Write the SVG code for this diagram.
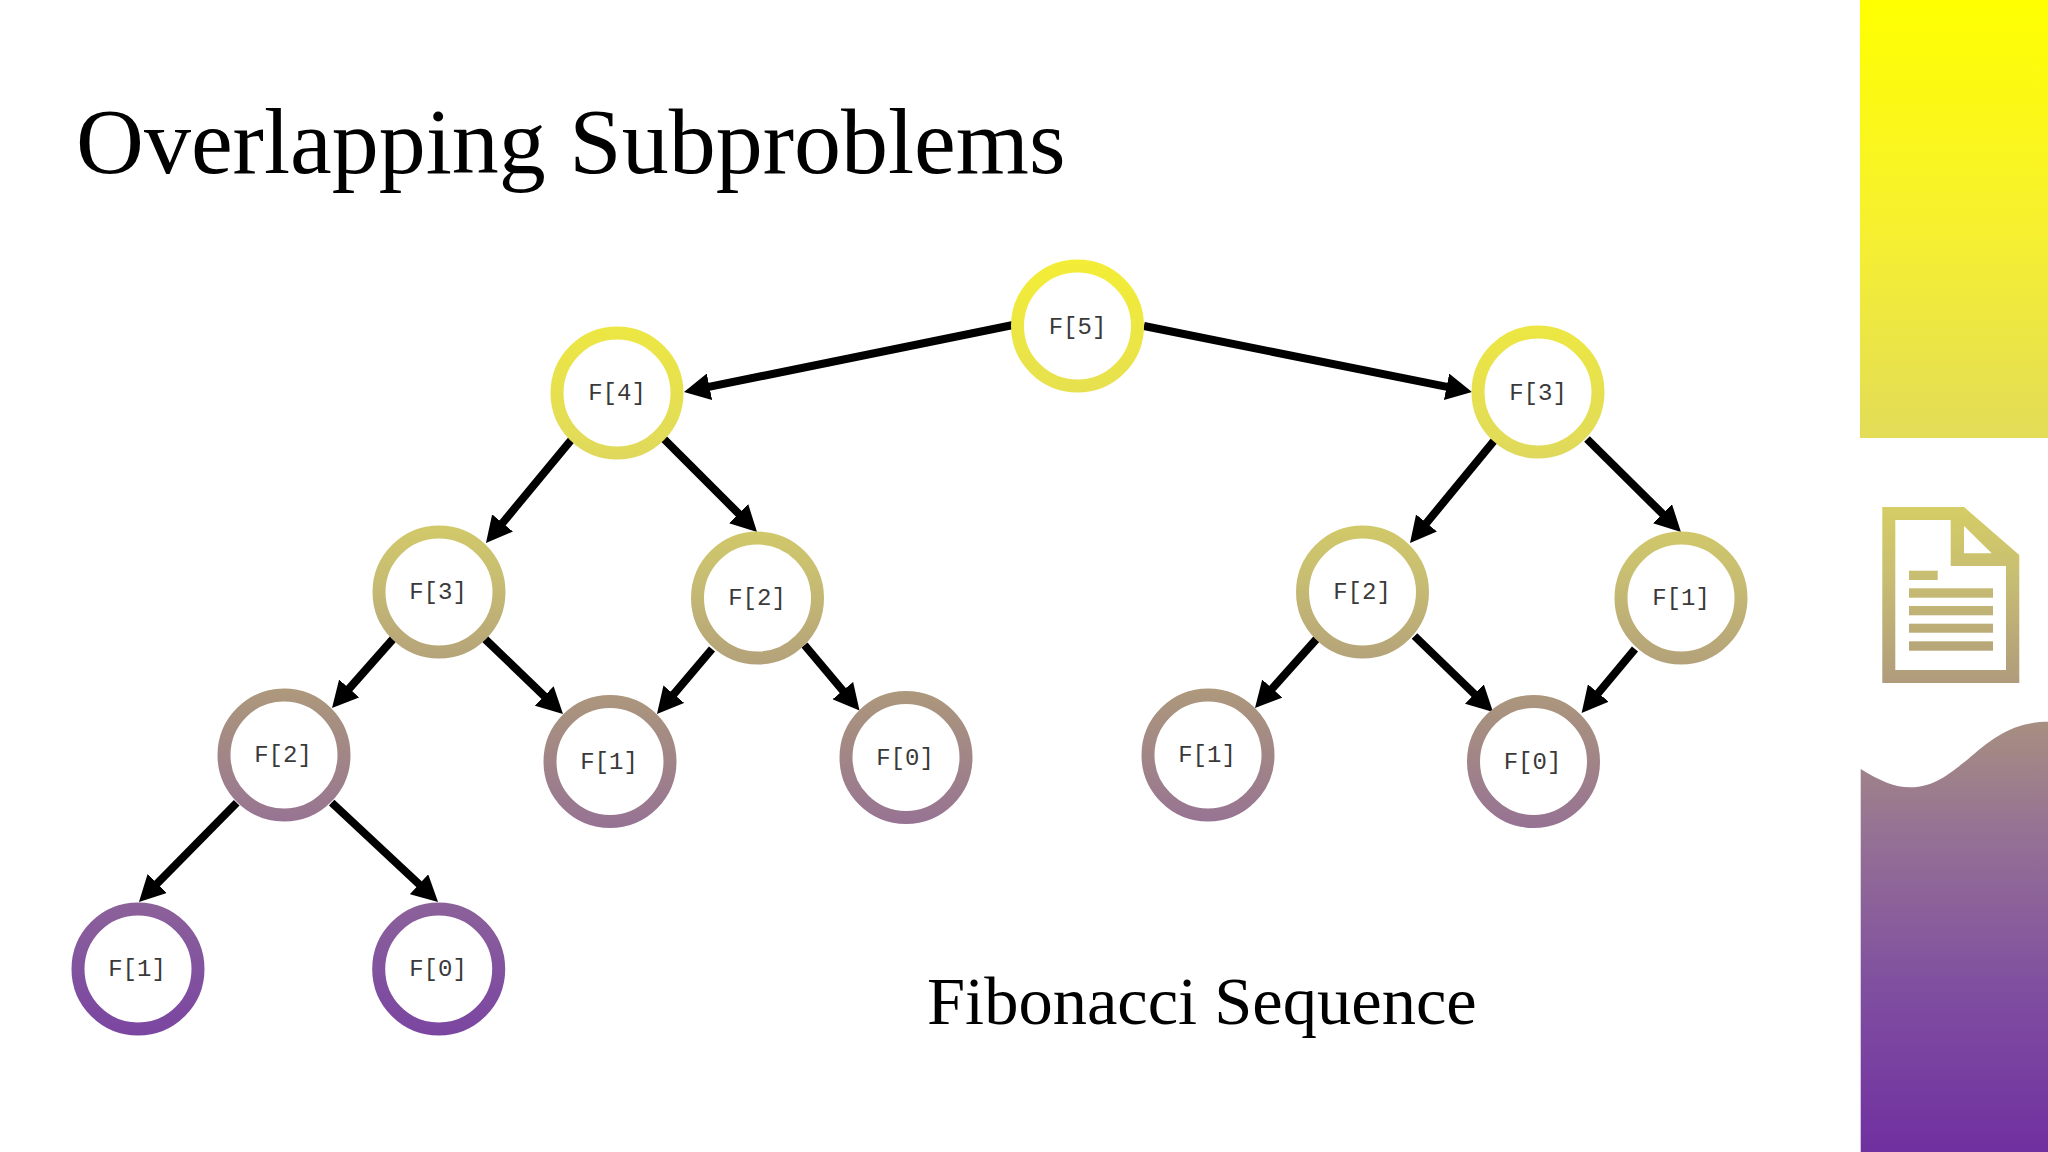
<svg xmlns="http://www.w3.org/2000/svg" width="2048" height="1152" viewBox="0 0 2048 1152">
<defs>
<linearGradient id="g" gradientUnits="userSpaceOnUse" x1="0" y1="0" x2="0" y2="1152">
<stop offset="0" stop-color="#ffff00"/><stop offset="0.2" stop-color="#f6f030"/><stop offset="0.38" stop-color="#e2dc58"/><stop offset="0.5" stop-color="#c8be72"/><stop offset="0.62" stop-color="#a8917f"/><stop offset="0.72" stop-color="#967294"/><stop offset="0.86" stop-color="#7f4ea0"/><stop offset="1" stop-color="#7030a0"/>
</linearGradient>
<marker id="arrow" markerUnits="userSpaceOnUse" markerWidth="26" markerHeight="27" refX="12" refY="13.5" orient="auto"><path d="M0 0L26 13.5L0 27z" fill="#000"/></marker>
</defs>
<style>
.n{fill:#fff;stroke:url(#g);stroke-width:13}
.l{font-family:"Liberation Mono",monospace;font-size:24px;fill:#3a3a3a;text-anchor:middle}
.t{font-family:"Liberation Serif",serif;fill:#000}
#connectors line{stroke:#000;stroke-width:8;marker-end:url(#arrow)}
.p{fill:url(#g)}
</style>
<rect width="2048" height="1152" fill="#fff"/>
<g id="panel">
<rect class="p" x="1860" y="0" width="188" height="438"/>
<path class="p" d="M1860.7 769C1880 781 1895 787.3 1910 787.3C1935 787.3 1950 773 1967 760C1990 740 2012 721.7 2048 721.7V1152H1860.7z"/>
<path class="p" fill-rule="evenodd" d="M1882.3 507H1964L2019.3 555V683H1882.3zM1895.3 520V670H2006V566H1950.7V520zM1964 526V553.3H1991.7z"/>
<rect class="p" x="1909" y="570.7" width="28.7" height="9.3"/>
<rect class="p" x="1909" y="588.3" width="84" height="9.4"/>
<rect class="p" x="1909" y="606" width="84" height="9.3"/>
<rect class="p" x="1909" y="623.7" width="84" height="9"/>
<rect class="p" x="1909" y="641.3" width="84" height="9.4"/>
</g>
<text class="t" x="76" y="173" font-size="94">Overlapping Subproblems</text>
<text class="t" x="927" y="1024" font-size="68.5">Fibonacci Sequence</text>
<g id="connectors">
<line x1="1013" y1="325" x2="697.7" y2="389.2"/>
<line x1="1144" y1="326" x2="1458.3" y2="389.2"/>
<line x1="572" y1="439" x2="494.9" y2="532.2"/>
<line x1="664" y1="439" x2="747.1" y2="522.1"/>
<line x1="1495.5" y1="439" x2="1418.9" y2="532.2"/>
<line x1="1587" y1="439" x2="1671" y2="522.2"/>
<line x1="393" y1="639" x2="341.3" y2="697.5"/>
<line x1="485" y1="639" x2="552.9" y2="704.3"/>
<line x1="712" y1="649" x2="666" y2="703.3"/>
<line x1="804.5" y1="645" x2="850.5" y2="699.8"/>
<line x1="1316.5" y1="639" x2="1264.3" y2="697.5"/>
<line x1="1414.5" y1="636" x2="1483" y2="702.3"/>
<line x1="1635" y1="649" x2="1590.6" y2="702.2"/>
<line x1="236.7" y1="802.7" x2="148.8" y2="892"/>
<line x1="331.7" y1="802.7" x2="427.8" y2="892.4"/>
</g>
<g id="n1"><circle class="n" cx="1077.5" cy="326" r="60"/><text class="l" x="1077.5" y="334">F[5]</text></g>
<g id="n2"><circle class="n" cx="617" cy="393" r="60"/><text class="l" x="617" y="400">F[4]</text></g>
<g id="n3"><circle class="n" cx="1538" cy="392" r="60"/><text class="l" x="1538" y="400">F[3]</text></g>
<g id="n4"><circle class="n" cx="439" cy="592" r="60"/><text class="l" x="438" y="599">F[3]</text></g>
<g id="n5"><circle class="n" cx="757.5" cy="598" r="60"/><text class="l" x="757" y="605">F[2]</text></g>
<g id="n6"><circle class="n" cx="1362.5" cy="592" r="60"/><text class="l" x="1362" y="599">F[2]</text></g>
<g id="n7"><circle class="n" cx="1681" cy="598" r="60"/><text class="l" x="1681" y="605">F[1]</text></g>
<g id="n8"><circle class="n" cx="284" cy="755" r="60"/><text class="l" x="283" y="762">F[2]</text></g>
<g id="n9"><circle class="n" cx="610" cy="761.5" r="60"/><text class="l" x="609" y="769">F[1]</text></g>
<g id="n10"><circle class="n" cx="906" cy="757.5" r="60"/><text class="l" x="905" y="765">F[0]</text></g>
<g id="n11"><circle class="n" cx="1208" cy="755" r="60"/><text class="l" x="1207" y="762">F[1]</text></g>
<g id="n12"><circle class="n" cx="1533.5" cy="761.5" r="60"/><text class="l" x="1532.5" y="769">F[0]</text></g>
<g id="n13"><circle class="n" cx="138" cy="969" r="60"/><text class="l" x="137" y="976">F[1]</text></g>
<g id="n14"><circle class="n" cx="438.7" cy="969" r="60"/><text class="l" x="438" y="976">F[0]</text></g>
</svg>
